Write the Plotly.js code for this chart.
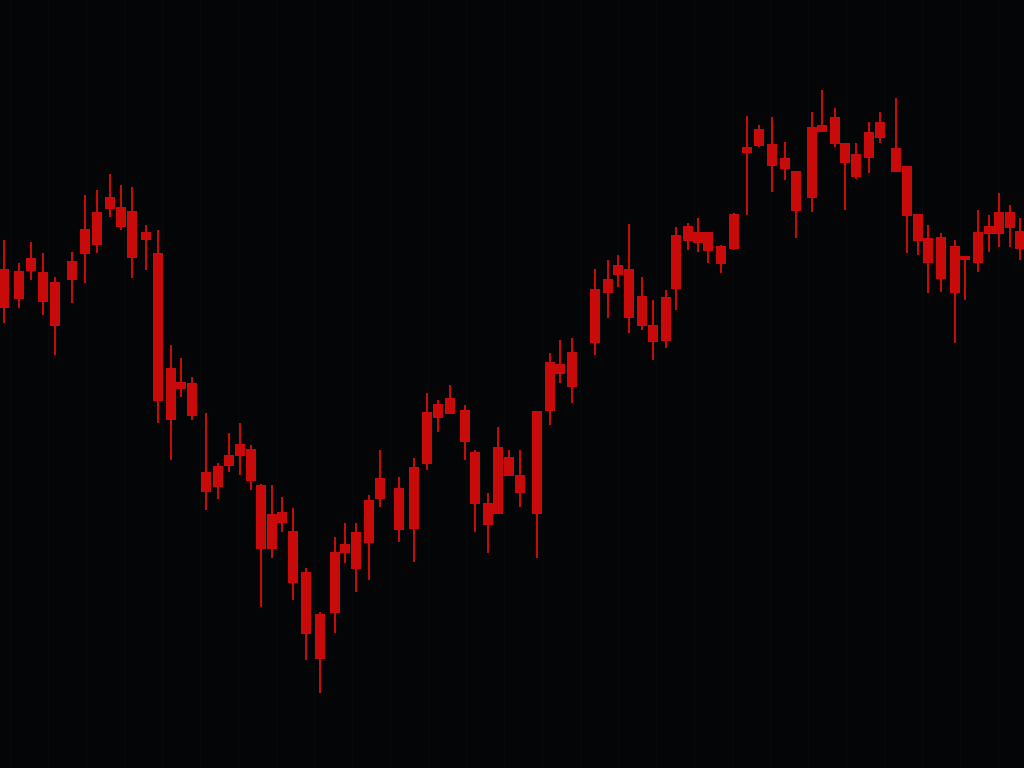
<!DOCTYPE html>
<html>
<head>
<meta charset="utf-8">
<script src="https://cdn.plot.ly/plotly-3.0.1.min.js"></script>
<style>
html,body{margin:0;padding:0;background:#040507;overflow:hidden;}
#chart{width:1024px;height:768px;}
</style>
</head>
<body>
<div id="chart"></div>
<script>
// Candle positions (time axis) and prices
var xPos = [4,19,31,43,55,72,85,97,110,121,132,146,158,171,181,192,206,218,229,240,251,261,272,282,293,306,320,335,345,356,369,380,399,414,427,438,450,465,475,488,498,509,520,537,550,560,572,595,608,618,629,642,653,666,676,688,698,708,721,734,747,759,772,785,796,812,822,835,845,856,869,880,896,907,918,928,941,955,965,978,989,999,1010,1020];
var openP = [498,496,509,495,485,506,538,555,570,560,556,535,514,399,385,384,295,301,312,323,318,282,253,255,236,195,153,215,223,235,267,289,279,300,355,363,369,357,315,264,320,310,292,356,405,403,415,478,488,502,498,471,442,470,532,541,535,535,521,553,620,638,623,609,596,640,642,650,624,613,635,645,619,601,553,529,530,521,511,535,541,555,555,536];
var closeP = [461,470,498,467,443,489,515,524,560,542,511,529,368,349,380,353,277,282,303,313,288,220,220,246,186,135,110,156,216,200,226,270,239,240,305,351,355,327,265,244,255,293,276,255,358,395,382,426,476,494,451,443,427,428,480,528,526,518,505,520,616,623,603,600,558,571,637,625,606,592,611,631,597,553,528,506,490,476,509,506,535,535,541,520];
var highP = [528,505,526,515,491,516,573,578,594,583,581,543,538,423,410,391,355,305,335,345,323,284,283,271,260,200,156,231,245,245,273,318,291,310,375,368,383,363,318,275,341,318,318,356,415,428,430,499,508,513,544,491,468,478,541,545,550,535,523,555,652,643,651,626,596,656,678,660,624,625,646,656,670,601,553,543,535,528,511,558,553,575,563,550];
var lowP = [445,460,488,453,413,465,485,515,551,538,490,498,345,308,371,348,258,269,296,293,278,161,210,236,168,108,75,135,205,176,188,261,226,206,298,336,355,308,236,215,255,293,261,210,343,385,365,413,450,481,435,438,408,420,458,518,516,505,495,518,553,621,576,588,530,556,637,621,558,589,595,625,597,515,513,475,476,425,468,496,516,521,521,508];

var red = '#c80a0a';
var trace = {
  type: 'candlestick',
  x: xPos,
  open: openP,
  high: highP,
  low: lowP,
  close: closeP,
  whiskerwidth: 0,
  increasing: {line: {color: red, width: 2}, fillcolor: red},
  decreasing: {line: {color: red, width: 2}, fillcolor: red},
  hoverinfo: 'skip'
};

var layout = {
  width: 1024,
  height: 768,
  margin: {l: 0, r: 0, t: 0, b: 0, pad: 0},
  paper_bgcolor: '#040507',
  plot_bgcolor: '#040507',
  showlegend: false,
  boxgap: 0.2,
  boxgroupgap: 0,
  xaxis: {
    range: [0, 1024],
    rangeslider: {visible: false},
    showticklabels: false,
    showgrid: true,
    gridcolor: 'rgba(255,255,255,0.025)',
    dtick: 38,
    tick0: 10,
    zeroline: false,
    showline: false,
    ticks: ''
  },
  yaxis: {
    range: [0, 768],
    showticklabels: false,
    showgrid: false,
    zeroline: false,
    showline: false,
    ticks: ''
  }
};

Plotly.newPlot('chart', [trace], layout, {displayModeBar: false, staticPlot: true});
</script>
</body>
</html>
